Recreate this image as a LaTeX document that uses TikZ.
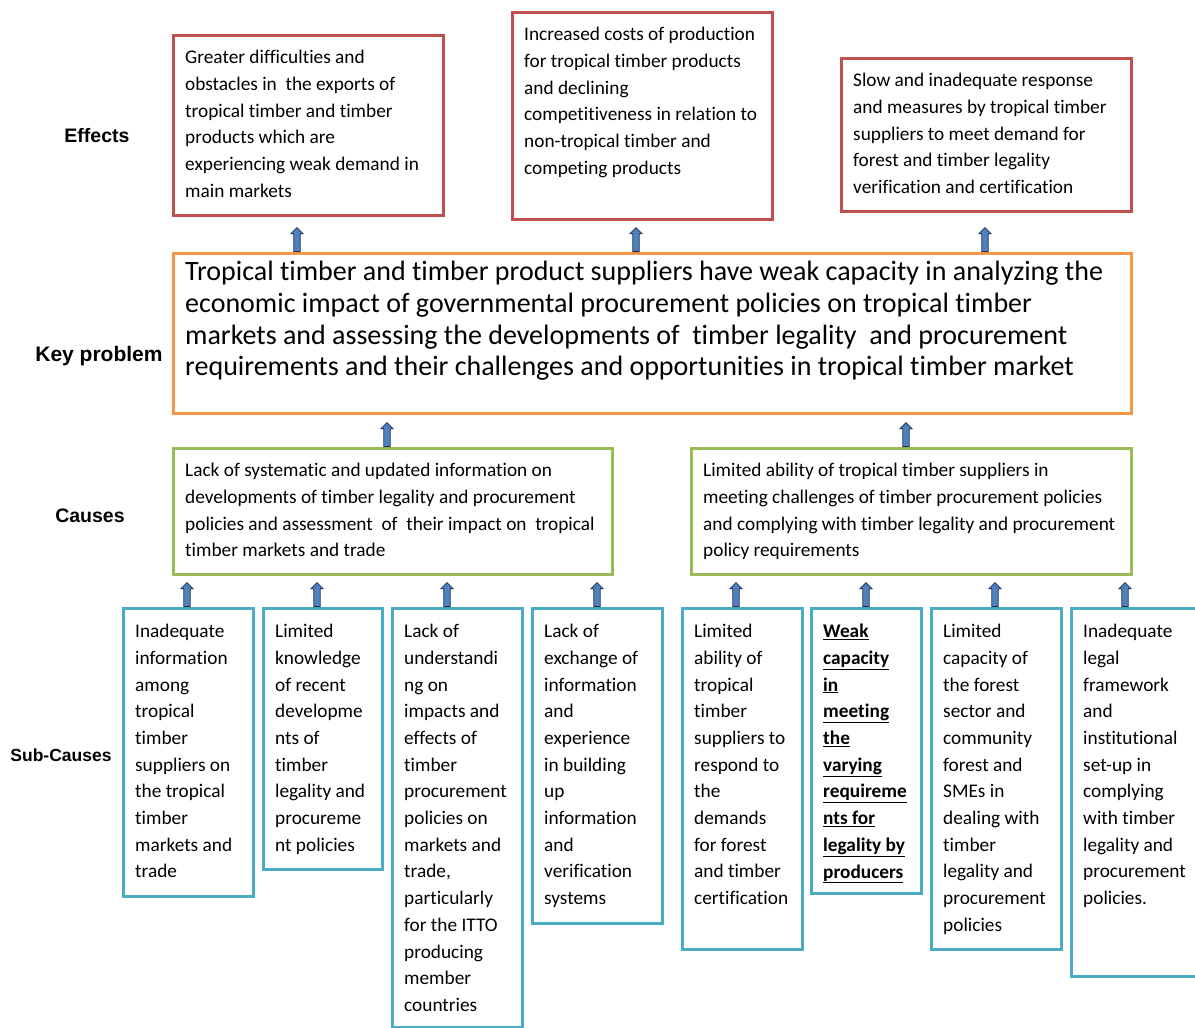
\documentclass[tikz,border=0pt]{standalone}
\usepackage{fontspec}
\setmainfont[Ligatures=NoCommon]{Carlito}
\newfontfamily\labfont{Liberation Sans}
\usetikzlibrary{shapes.arrows}
\definecolor{cred}{HTML}{C0504D}
\definecolor{corange}{HTML}{F79646}
\definecolor{cgreen}{HTML}{9BBB59}
\definecolor{cblue}{HTML}{4BACC6}
\definecolor{ablue}{HTML}{4F81BD}
\definecolor{adark}{HTML}{1F2F4F}
\newcommand{\bu}[1]{\underline{#1}}
\begin{document}
\begin{tikzpicture}[x=1pt,y=-1pt,
  box/.style={draw, line width=3pt, fill=white, inner sep=0pt, anchor=north west},
  txt/.style={anchor=north west, inner sep=0pt, align=left, font=\fontsize{19.3}{26.7}\selectfont},
  keytxt/.style={anchor=north west, inner sep=0pt, align=left, font=\fontsize{28}{31.7}\selectfont},
  lab/.style={font=\labfont\bfseries\fontsize{19.5}{22}\selectfont, inner sep=0pt},
  barrow/.style={single arrow, draw=adark, fill=ablue, line width=0.8pt, minimum height=24pt, minimum width=11.5pt, inner sep=2.8pt, single arrow head extend=3pt, single arrow head indent=0pt}
]
\useasboundingbox (0,0) rectangle (1195,1028);

% labels
\node[lab] (lE) at (97,136) {Effects};
\node[lab, font=\labfont\bfseries\fontsize{21}{24}\selectfont] (lK) at (99,356) {Key problem};
\node[lab] (lC) at (90,516) {Causes};
\node[lab, font=\labfont\bfseries\fontsize{17.5}{20}\selectfont] (lS) at (61,755) {Sub-Causes};

% effects
\node[box, draw=cred, minimum width=270, minimum height=180] (e1) at (172,34) {};
\node[box, draw=cred, minimum width=260, minimum height=207] (e2) at (511,11) {};
\node[box, draw=cred, minimum width=290, minimum height=153] (e3) at (840,57) {};
\node[txt] (e1t) at ([shift={(13,16)}]e1.north west) {Greater difficulties and\\obstacles in\ \ the exports of\\tropical timber and timber\\products which are\\experiencing weak demand in\\main markets};
\node[txt] (e2t) at ([shift={(13,16)}]e2.north west) {Increased costs of production\\for tropical timber products\\and declining\\competitiveness in relation to\\non-tropical timber and\\competing products};
\node[txt] (e3t) at ([shift={(13,16)}]e3.north west) {Slow and inadequate response\\and measures by tropical timber\\suppliers to meet demand for\\forest and timber legality\\verification and certification};

% key problem
\node[box, draw=corange, minimum width=958, minimum height=160] (k) at (172,252) {};
\node[keytxt] (kt) at ([shift={(13,9)}]k.north west) {Tropical timber and timber product suppliers have weak capacity in analyzing the\\economic impact of governmental procurement policies on tropical timber\\markets and assessing the developments of\ \ timber legality\ \ and procurement\\requirements and their challenges and opportunities in tropical timber market};

% causes
\node[box, draw=cgreen, minimum width=439, minimum height=126] (c1) at (172,447) {};
\node[box, draw=cgreen, minimum width=440, minimum height=126] (c2) at (690,447) {};
\node[txt] (c1t) at ([shift={(13,16)}]c1.north west) {Lack of systematic and updated information on\\developments of timber legality and procurement\\policies and assessment\ \ of\ \ their impact on\ \ tropical\\timber markets and trade};
\node[txt] (c2t) at ([shift={(13,16)}]c2.north west) {Limited ability of tropical timber suppliers in\\meeting challenges of timber procurement policies\\and complying with timber legality and procurement\\policy requirements};

% sub-causes
\node[box, draw=cblue, minimum width=130, minimum height=288] (s1) at (122,607) {};
\node[box, draw=cblue, minimum width=119, minimum height=261] (s2) at (262,607) {};
\node[box, draw=cblue, minimum width=130, minimum height=419] (s3) at (391,607) {};
\node[box, draw=cblue, minimum width=130, minimum height=315] (s4) at (531,607) {};
\node[box, draw=cblue, minimum width=120, minimum height=341] (s5) at (681,607) {};
\node[box, draw=cblue, minimum width=110, minimum height=285] (s6) at (810,607) {};
\node[box, draw=cblue, minimum width=130, minimum height=341] (s7) at (930,607) {};
\node[box, draw=cblue, minimum width=140, minimum height=368] (s8) at (1070,607) {};

\node[txt] (s1t) at ([shift={(13,17)}]s1.north west) {Inadequate\\information\\among\\tropical\\timber\\suppliers on\\the tropical\\timber\\markets and\\trade};
\node[txt] (s2t) at ([shift={(13,17)}]s2.north west) {Limited\\knowledge\\of recent\\developme\\nts of\\timber\\legality and\\procureme\\nt policies};
\node[txt] (s3t) at ([shift={(13,17)}]s3.north west) {Lack of\\understandi\\ng on\\impacts and\\effects of\\timber\\procurement\\policies on\\markets and\\trade,\\particularly\\for the ITTO\\producing\\member\\countries};
\node[txt] (s4t) at ([shift={(13,17)}]s4.north west) {Lack of\\exchange of\\information\\and\\experience\\in building\\up\\information\\and\\verification\\systems};
\node[txt] (s5t) at ([shift={(13,17)}]s5.north west) {Limited\\ability of\\tropical\\timber\\suppliers to\\respond to\\the\\demands\\for forest\\and timber\\certification};
\node[txt, font=\bfseries\fontsize{19.3}{26.7}\selectfont] (s6t) at ([shift={(13,17)}]s6.north west) {\bu{Weak}\\\bu{capacity}\\\bu{in}\\\bu{meeting}\\\bu{the}\\\bu{varying}\\\bu{requireme}\\\bu{nts for}\\\bu{legality by}\\\bu{producers}};
\node[txt] (s7t) at ([shift={(13,17)}]s7.north west) {Limited\\capacity of\\the forest\\sector and\\community\\forest and\\SMEs in\\dealing with\\timber\\legality and\\procurement\\policies};
\node[txt] (s8t) at ([shift={(13,17)}]s8.north west) {Inadequate\\legal\\framework\\and\\institutional\\set-up in\\complying\\with timber\\legality and\\procurement\\policies.};

% arrow x positions
\coordinate (xe1) at (297,0);
\coordinate (xe2) at (636,0);
\coordinate (xe3) at (985,0);
\coordinate (xc1) at (387,0);
\coordinate (xc2) at (906,0);
\coordinate (xs1) at (187,0);
\coordinate (xs2) at (317,0);
\coordinate (xs3) at (447,0);
\coordinate (xs4) at (597,0);
\coordinate (xs5) at (736,0);
\coordinate (xs6) at (866,0);
\coordinate (xs7) at (995,0);
\coordinate (xs8) at (1125,0);

% arrows
\path (xe1 |- k.north) -- (xe1 |- e1.south) node[barrow, pos=0, sloped, anchor=tail] (ae1) {};
\path (xe2 |- k.north) -- (xe2 |- e2.south) node[barrow, pos=0, sloped, anchor=tail] (ae2) {};
\path (xe3 |- k.north) -- (xe3 |- e3.south) node[barrow, pos=0, sloped, anchor=tail] (ae3) {};
\path (xc1 |- c1.north) -- (xc1 |- k.south) node[barrow, pos=0, sloped, anchor=tail] (ac1) {};
\path (xc2 |- c2.north) -- (xc2 |- k.south) node[barrow, pos=0, sloped, anchor=tail] (ac2) {};
\path (xs1 |- s1.north) -- (xs1 |- c1.south) node[barrow, pos=0, sloped, anchor=tail] (as1) {};
\path (xs2 |- s2.north) -- (xs2 |- c1.south) node[barrow, pos=0, sloped, anchor=tail] (as2) {};
\path (xs3 |- s3.north) -- (xs3 |- c1.south) node[barrow, pos=0, sloped, anchor=tail] (as3) {};
\path (xs4 |- s4.north) -- (xs4 |- c1.south) node[barrow, pos=0, sloped, anchor=tail] (as4) {};
\path (xs5 |- s5.north) -- (xs5 |- c2.south) node[barrow, pos=0, sloped, anchor=tail] (as5) {};
\path (xs6 |- s6.north) -- (xs6 |- c2.south) node[barrow, pos=0, sloped, anchor=tail] (as6) {};
\path (xs7 |- s7.north) -- (xs7 |- c2.south) node[barrow, pos=0, sloped, anchor=tail] (as7) {};
\path (xs8 |- s8.north) -- (xs8 |- c2.south) node[barrow, pos=0, sloped, anchor=tail] (as8) {};
\end{tikzpicture}
\end{document}
